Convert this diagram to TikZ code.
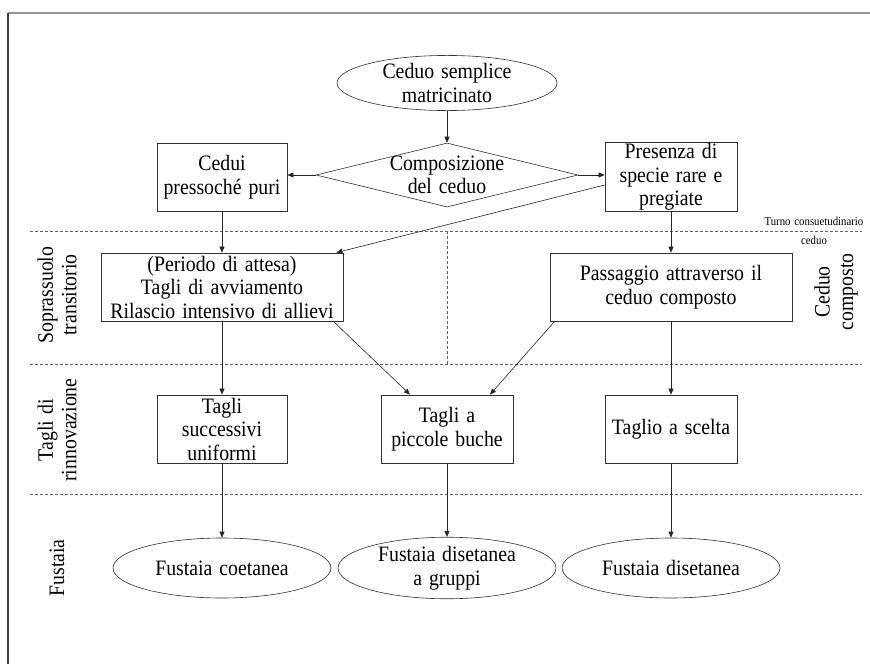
\documentclass[tikz,border=0pt]{standalone}
\usepackage{fontspec}
\setmainfont{Liberation Serif}[FakeStretch=0.9, WordSpace=1.4]
\usetikzlibrary{arrows.meta, shapes.geometric}

\begin{document}
\begin{tikzpicture}[x=1pt, y=-1pt,
    every node/.style={font=\fontsize{22}{23.5}\selectfont, align=center},
    box/.style={draw=black!80, line width=0.8pt, minimum height=68pt, inner sep=1pt},
    oval/.style={ellipse, draw=black!80, line width=0.6pt, minimum width=218pt, minimum height=60pt, inner sep=0pt},
    decision/.style={diamond, draw=black!80, line width=0.6pt, aspect=4.1,
        minimum width=262pt, minimum height=64pt, inner sep=-1pt},
    link/.style={-{Triangle[length=6pt,width=5pt]}, line width=0.6pt, black!85},
    sep/.style={dash pattern=on 3pt off 2pt, black!60, line width=0.8pt},
    side/.style={rotate=90}
]
    \useasboundingbox (0,0) rectangle (870,664);
    % cornice
    \draw[black!40, line width=1.5pt] (8,13) -- (870,13);
    \draw[black!75, line width=1.2pt] (8,13) -- (8,664);

    % separatori
    \draw[sep] (30,231) -- (862,231);
    \draw[sep] (30,364) -- (862,364);
    \draw[sep] (30,494) -- (862,494);
    \draw[sep] (447,231) -- (447,364);

    % nodi
    \node[oval, minimum width=220pt, minimum height=50pt] (ceduo) at (447,83) {Ceduo semplice\\matricinato};
    \node[decision] (comp) at (447,175) {Composizione\\del ceduo};
    \node[box, minimum width=130pt] (puri) at (222,177) {Cedui\\pressoché puri};
    \node[box, minimum width=132pt] (pregiate) at (671,177) {Presenza di\\specie rare e\\pregiate};

    \node[box, minimum width=242pt] (attesa) at (222,287) {(Periodo di attesa)\\Tagli di avviamento\\Rilascio intensivo di allievi};
    \node[box, minimum width=242pt] (composto) at (671,287) {Passaggio attraverso il\\ceduo composto};

    \node[box, minimum width=130pt] (tsu) at (222,429) {Tagli\\successivi\\uniformi};
    \node[box, minimum width=132pt] (buche) at (447,429) {Tagli a\\piccole buche};
    \node[box, minimum width=132pt] (scelta) at (671,429) {Taglio a scelta};

    \node[oval] (coetanea) at (222,568) {Fustaia coetanea};
    \node[oval] (gruppi) at (447,568) {Fustaia disetanea\\a gruppi};
    \node[oval] (disetanea) at (671,568) {Fustaia disetanea};

    % etichette
    \node[font=\fontsize{12}{19}\selectfont] (turno) at (814,231) {Turno consuetudinario\\ceduo};
    \node[side] (sopra) at (57,295) {Soprassuolo\\transitorio};
    \node[side] (rinn) at (57,430) {Tagli di\\rinnovazione};
    \node[side] (fust) at (57,568) {Fustaia};
    \node[side] (cedcomp) at (836,292) {Ceduo\\composto};

    % frecce
    \draw[link] (ceduo) -- (comp);
    \draw[link] (comp.west) -- (puri.east |- comp.west);
    \draw[link] (comp.east) -- (pregiate.west |- comp.east);
    \draw[link] ([yshift=-8pt]pregiate.west) -- ([xshift=-7pt]attesa.north east);
    \draw[link] (puri) -- (attesa);
    \draw[link] (pregiate) -- (composto);
    \draw[link] (attesa) -- (tsu);
    \draw[link] ([xshift=-10pt]attesa.south east) -- ([xshift=-37pt]buche.north);
    \draw[link] ([xshift=5pt]composto.south west) -- ([xshift=43pt]buche.north);
    \draw[link] (composto) -- (scelta);
    \draw[link] (tsu) -- (coetanea);
    \draw[link] (buche) -- (gruppi);
    \draw[link] (scelta) -- (disetanea);
\end{tikzpicture}
\end{document}
